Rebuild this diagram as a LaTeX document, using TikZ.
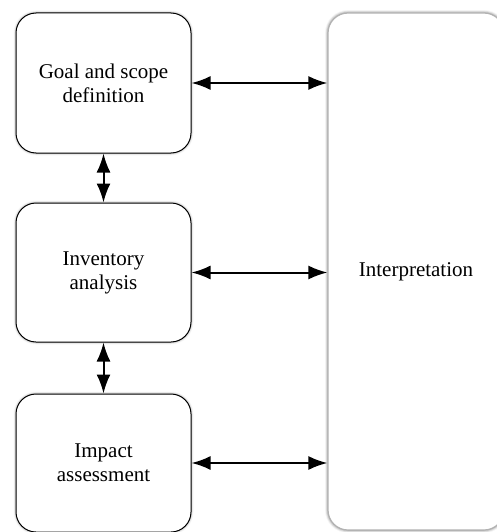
\documentclass[tikz,border=0pt]{standalone}
\usepackage{fontspec}
\setmainfont{Liberation Serif}
\usetikzlibrary{shadows.blur,arrows.meta}
\begin{document}
\begin{tikzpicture}[x=1pt,y=-1pt,
  stage/.style={draw=black, line width=1pt, fill=white, rounded corners=20pt,
    minimum width=175pt, inner sep=0pt, align=center,
    font=\fontsize{21}{24}\selectfont,
    blur shadow={shadow xshift=0pt, shadow yshift=0pt, shadow blur radius=2.5pt, shadow opacity=45}},
  interp/.style={draw=gray!60, line width=1.2pt, fill=white, rounded corners=20pt,
    minimum width=176pt, minimum height=517pt, inner sep=0pt,
    font=\fontsize{21}{24}\selectfont,
    blur shadow={shadow xshift=0pt, shadow yshift=0pt, shadow blur radius=3pt, shadow opacity=65}},
  link/.style={line width=2pt, {Latex[length=19pt,width=14pt]}-{Latex[length=19pt,width=14pt]}}
]
\useasboundingbox (0,0) rectangle (497,532);

\node[stage, minimum height=140pt] (goal) at (103.5,83) {Goal and scope\\definition};
\node[stage, minimum height=139pt] (inv) at (103.5,272.5) {Inventory\\analysis};
\node[stage, minimum height=138pt] (imp) at (103.5,463) {Impact\\assessment};
\node[interp] (int) at (416,271.5) {Interpretation};

\draw[link] (goal.east) -- (goal.east -| int.west);
\draw[link] (inv.east) -- (inv.east -| int.west);
\draw[link] (imp.east) -- (imp.east -| int.west);
\draw[link] (goal.south) -- (inv.north);
\draw[link] (inv.south) -- (imp.north);
\end{tikzpicture}
\end{document}
